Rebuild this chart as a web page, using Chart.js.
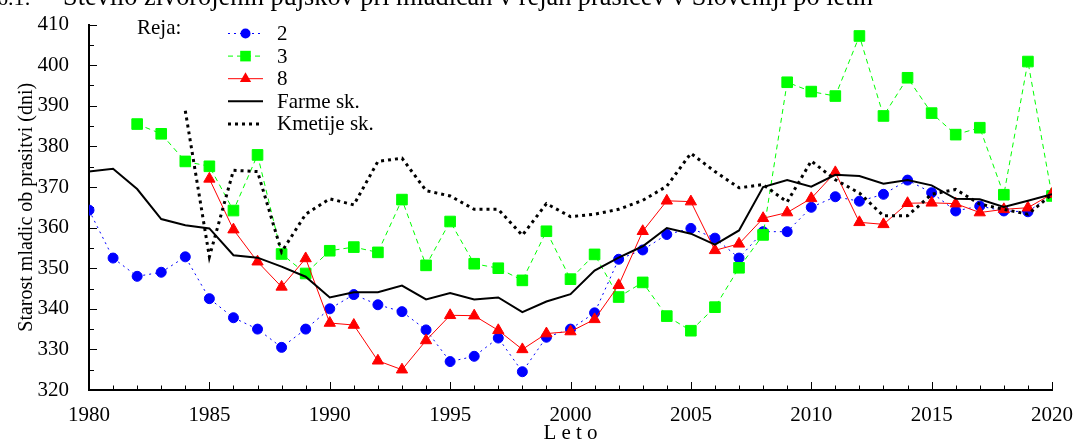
<!DOCTYPE html>
<html>
<head>
<meta charset="utf-8">
<script src="https://cdn.jsdelivr.net/npm/chart.js@4/dist/chart.umd.min.js"></script>
<style>
  html, body { margin: 0; padding: 0; background: #fff; overflow: hidden; }
</style>
</head>
<body>
<canvas id="chart" width="1080" height="441"></canvas>
<script>
// Data
const years = [
  1980, 1981, 1982, 1983, 1984, 1985, 1986, 1987, 1988, 1989,
  1990, 1991, 1992, 1993, 1994, 1995, 1996, 1997, 1998, 1999,
  2000, 2001, 2002, 2003, 2004, 2005, 2006, 2007, 2008, 2009,
  2010, 2011, 2012, 2013, 2014, 2015, 2016, 2017, 2018, 2019, 2020,
];

const reja2 = [
  364.3, 352.5, 348.0, 349.0, 352.8, 342.5, 337.8, 335.0, 330.5, 335.0,
  340.0, 343.5, 341.0, 339.3, 334.8, 327.0, 328.3, 332.8, 324.5, 333.0,
  335.0, 339.0, 352.2, 354.5, 358.3, 359.8, 357.4, 352.5, 359.0, 359.0,
  365.0, 367.6, 366.5, 368.2, 371.7, 368.6, 364.1, 365.3, 364.1, 363.9, 368.1,
];

const reja3 = [
  null, null, 385.5, 383.1, 376.3, 375.1, 364.2, 377.9, 353.5, 348.7,
  354.3, 355.2, 353.9, 366.9, 350.7, 361.5, 351.1, 350.0, 347.0, 359.1,
  347.3, 353.4, 342.9, 346.5, 338.2, 334.6, 340.4, 350.1, 358.2, 395.8,
  393.5, 392.4, 407.2, 387.5, 396.9, 388.2, 382.9, 384.6, 368.1, 400.9, 367.8,
];

const reja8 = [
  null, null, null, null, null, 372.0, 359.5, 351.6, 345.4, 352.4,
  336.5, 336.0, 327.2, 325.0, 332.2, 338.4, 338.3, 334.7, 330.0, 333.9,
  334.4, 337.4, 345.8, 359.1, 366.6, 366.4, 354.4, 356.0, 362.3, 363.7,
  367.2, 373.6, 361.3, 360.8, 366.0, 366.1, 365.9, 363.7, 364.5, 364.9, 368.3,
];

const farme = [
  373.8, 374.5, 369.5, 362.1, 360.6, 359.8, 353.2, 352.6, 350.4, 347.9,
  342.8, 344.1, 344.1, 345.7, 342.3, 343.9, 342.3, 342.8, 339.2, 341.8,
  343.6, 349.4, 352.6, 355.4, 359.9, 358.5, 355.8, 359.3, 370.0, 371.7,
  370.1, 373.0, 372.7, 370.8, 371.7, 370.4, 367.1, 367.0, 365.1, 366.6, 368.2,
];

const kmetije = [
  null, null, null, null, 388.8, 352.8, 374.1, 373.8, 354.0, 363.3,
  367.1, 365.6, 376.3, 377.1, 369.1, 367.8, 364.5, 364.5, 358.1, 365.9,
  362.7, 363.3, 364.5, 366.7, 370.2, 378.3, 373.8, 369.8, 370.6, 366.3,
  376.4, 371.8, 368.5, 362.9, 362.9, 368.2, 369.4, 365.8, 364.5, 363.3, 368.2,
];

const titleNo = "6.1:";
const titleText = "Število živorojenih pujskov pri mladicah v rejah prašičev v Sloveniji po letih";
const yTitle = "Starost mladic ob prasitvi (dni)";
const xTitle = "L e t o";

const FONT = '"Liberation Serif", "Times New Roman", serif';

const toPoints = (vals) =>
  years.map((yr, i) => ({ x: yr, y: vals[i] })).filter((p) => p.y !== null);

// Inward ticks like the original
const innerTicks = {
  id: "innerTicks",
  beforeDatasetsDraw(chart) {
    const ctx = chart.ctx;
    const { left, bottom } = chart.chartArea;
    const xs = chart.scales.x;
    const ys = chart.scales.y;
    ctx.save();
    ctx.strokeStyle = "#000";
    ctx.lineWidth = 1;
    ctx.beginPath();
    xs.ticks.forEach((t) => {
      const px = Math.round(xs.getPixelForValue(t.value)) + 0.5;
      const len = t.value % 5 === 0 ? 8 : 4.5;
      ctx.moveTo(px, bottom);
      ctx.lineTo(px, bottom - len);
    });
    ys.ticks.forEach((t) => {
      const py = Math.round(ys.getPixelForValue(t.value)) + 0.5;
      const len = t.value % 10 === 0 ? 8 : 5;
      ctx.moveTo(left, py);
      ctx.lineTo(left + len, py);
    });
    ctx.stroke();
    ctx.restore();
  },
};

function marker(ctx, ds, x, y) {
  ctx.save();
  ctx.fillStyle = ds.pointBackgroundColor;
  ctx.strokeStyle = ds.pointBackgroundColor;
  ctx.lineWidth = 1;
  ctx.setLineDash([]);
  Chart.helpers.drawPoint(ctx, { pointStyle: ds.pointStyle, radius: ds.pointRadius, rotation: 0 }, x, y);
  ctx.restore();
}

// Title (cut at the top) + legend box
const extras = {
  id: "extras",
  afterDraw(chart) {
    const ctx = chart.ctx;
    ctx.save();
    ctx.fillStyle = "#000";
    ctx.textBaseline = "alphabetic";
    ctx.font = "22px " + FONT;
    ctx.fillText(titleNo, -3, 4.5);
    ctx.font = "20px " + FONT;
    const w = ctx.measureText(titleText).width;
    const size = (20 * 810) / w;
    ctx.font = size.toFixed(2) + "px " + FONT;
    ctx.fillText(titleText, 63, 4.5);

    ctx.font = "21px " + FONT;
    ctx.textBaseline = "middle";
    ctx.fillText("Reja:", 137, 28.5);
    chart.data.datasets.forEach((ds, i) => {
      const y = 33.5 + i * 22.6;
      ctx.save();
      ctx.strokeStyle = ds.borderColor;
      ctx.lineWidth = ds.borderWidth;
      ctx.setLineDash(ds.borderDash || []);
      ctx.beginPath();
      ctx.moveTo(228, y);
      ctx.lineTo(263, y);
      ctx.stroke();
      ctx.restore();
      if (ds.pointRadius > 0) marker(ctx, ds, 245.5, y);
      ctx.fillText(ds.label, 277, y + 1);
    });
    ctx.restore();
  },
};

Chart.defaults.font.family = FONT;
Chart.defaults.color = "#000";

new Chart(document.getElementById("chart"), {
  type: "line",
  data: {
    datasets: [
      {
        label: "2",
        data: toPoints(reja2),
        borderColor: "#0000ff",
        borderWidth: 1,
        borderDash: [2, 4],
        pointStyle: "circle",
        pointRadius: 5,
        pointBackgroundColor: "#0000ff",
        pointBorderColor: "#0000ff",
        pointBorderWidth: 1,
        order: 5,
      },
      {
        label: "3",
        data: toPoints(reja3),
        borderColor: "#00ff00",
        borderWidth: 1,
        borderDash: [5, 4],
        pointStyle: "rect",
        pointRadius: 7.5,
        pointBackgroundColor: "#00ff00",
        pointBorderColor: "#00ff00",
        pointBorderWidth: 1,
        order: 4,
      },
      {
        label: "8",
        data: toPoints(reja8),
        borderColor: "#ff0000",
        borderWidth: 1,
        pointStyle: "triangle",
        pointRadius: 6.5,
        pointBackgroundColor: "#ff0000",
        pointBorderColor: "#ff0000",
        pointBorderWidth: 1,
        order: 3,
      },
      {
        label: "Farme sk.",
        data: toPoints(farme),
        borderColor: "#000000",
        borderWidth: 2,
        pointRadius: 0,
        order: 2,
      },
      {
        label: "Kmetije sk.",
        data: toPoints(kmetije),
        borderColor: "#000000",
        borderWidth: 3,
        borderDash: [3, 4],
        pointRadius: 0,
        order: 1,
      },
    ],
  },
  options: {
    responsive: false,
    animation: false,
    devicePixelRatio: 1,
    layout: { padding: { top: 21, right: 28, left: 0, bottom: 0 } },
    elements: { line: { tension: 0 } },
    plugins: {
      legend: { display: false },
      tooltip: { enabled: false },
    },
    scales: {
      x: {
        type: "linear",
        min: 1980,
        max: 2020,
        grid: { display: false },
        border: { color: "#000", width: 2 },
        ticks: {
          stepSize: 1,
          autoSkip: false,
          maxRotation: 0,
          padding: 5,
          font: { size: 21 },
          callback: (v) => (v % 5 === 0 ? String(v) : ""),
        },
        title: {
          display: true,
          text: xTitle,
          font: { size: 21, lineHeight: 0.7 },
          padding: 0,
        },
        afterFit: (scale) => {
          scale.height = 51;
        },
      },
      y: {
        min: 320,
        max: 410,
        grid: { display: false },
        border: { color: "#000", width: 2 },
        ticks: {
          stepSize: 5,
          autoSkip: false,
          padding: 12,
          font: { size: 21 },
          callback: (v) => (v % 10 === 0 ? String(v) : ""),
        },
        title: {
          display: true,
          text: yTitle,
          font: { size: 20 },
          padding: { top: 15, bottom: 0 },
        },
        afterFit: (scale) => {
          scale.width = 89;
        },
      },
    },
  },
  plugins: [innerTicks, extras],
});
</script>
</body>
</html>
